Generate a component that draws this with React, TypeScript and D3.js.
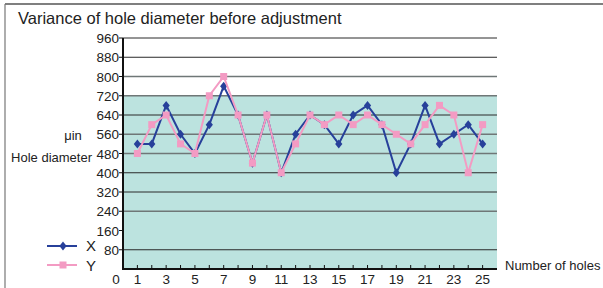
import React from "react";
import * as d3 from "d3";

const holes = d3.range(1, 26);
const seriesX = [520, 520, 680, 560, 480, 600, 760, 640, 440, 640, 400, 560, 640, 600, 520, 640, 680, 600, 400, 520, 680, 520, 560, 600, 520];
const seriesY = [480, 600, 640, 520, 480, 720, 800, 640, 440, 640, 400, 520, 640, 600, 640, 600, 640, 600, 560, 520, 600, 680, 640, 400, 600];
const yTickLabels = [0, 80, 160, 240, 320, 400, 480, 560, 640, 720, 800, 880, 960];
const gridValues = [80, 240, 320, 400, 480, 560, 640, 720, 800, 880, 960];
const darkGrid = [80, 320, 400, 640, 880, 960];
const xLabels = [1, 3, 5, 7, 9, 11, 13, 15, 17, 19, 21, 23, 25];

const W = 603, H = 288;
const L = 123, R = 497, T = 38, B = 269;
const font = "Liberation Sans, Arial, sans-serif";
const blue = "#27409a";
const pink = "#f39bc3";

export default function App() {
  const x = d3.scaleLinear().domain([0, 26]).range([L, R]);
  const y = d3.scaleLinear().domain([0, 960]).range([B, T]);
  const line = d3.line<number>().x((_, i) => x(holes[i])).y((d) => y(d));
  const diamond = (cx: number, cy: number, r: number) =>
    `M${cx},${cy - r}L${cx + r * 0.8},${cy}L${cx},${cy + r}L${cx - r * 0.8},${cy}Z`;
  return (
    <svg width={W} height={H} style={{ position: "absolute", left: 0, top: 0 }}>
      <rect x={0} y={0} width={W} height={H} fill="#fff" />
      <line x1={5} x2={W} y1={4} y2={4} stroke="#555" strokeWidth={1.5} />
      <line x1={5} x2={5} y1={4} y2={H} stroke="#777" strokeWidth={1.2} />
      <text x={18} y={24} fontFamily={font} fontSize={16.5} fill="#222">Variance of hole diameter before adjustment</text>
      <rect x={L} y={y(720)} width={R - L} height={B - y(720)} fill="#bce3df" />
      {gridValues.map((v) => (
        <line key={v} x1={L} x2={R} y1={y(v)} y2={y(v)}
          stroke={darkGrid.includes(v) ? "#2a2a2a" : "#6f7777"}
          strokeWidth={darkGrid.includes(v) ? 1 : 1.5} />
      ))}
      {yTickLabels.filter((v) => v > 0).map((v) => (
        <g key={v}>
          <line x1={L - 4} x2={L} y1={y(v)} y2={y(v)} stroke="#111" />
          <text x={119} y={y(v) + 5} textAnchor="end" fontFamily={font} fontSize={13.5} fill="#222">{v}</text>
        </g>
      ))}
      {holes.map((h) => (
        <line key={h} x1={x(h)} x2={x(h)} y1={B} y2={B - 4} stroke="#111" />
      ))}
      {xLabels.map((h) => (
        <text key={h} x={x(h)} y={283.5} textAnchor="middle" fontFamily={font} fontSize={13.5} fill="#222">{h}</text>
      ))}
      <text x={116} y={283.5} textAnchor="middle" fontFamily={font} fontSize={13.5} fill="#222">0</text>
      <line x1={L} x2={L} y1={T} y2={B + 1} stroke="#111" strokeWidth={2} />
      <line x1={L - 1} x2={R} y1={B} y2={B} stroke="#111" strokeWidth={2} />
      <path d={line(seriesX) || ""} fill="none" stroke={blue} strokeWidth={2} />
      {seriesX.map((v, i) => (
        <path key={i} d={diamond(x(holes[i]), y(v), 4.5)} fill={blue} />
      ))}
      <path d={line(seriesY) || ""} fill="none" stroke={pink} strokeWidth={2} />
      {seriesY.map((v, i) => (
        <rect key={i} x={x(holes[i]) - 3.5} y={y(v) - 3.5} width={7} height={7} fill={pink} />
      ))}
      <text x={73} y={140} textAnchor="middle" fontFamily={font} fontSize={13} fill="#222">μin</text>
      <text x={92} y={162} textAnchor="end" fontFamily={font} fontSize={13} fill="#222">Hole diameter</text>
      <text x={505} y={270} fontFamily={font} fontSize={13} fill="#222">Number of holes</text>
      <line x1={47} x2={77} y1={246} y2={246} stroke={blue} strokeWidth={2} />
      <path d={diamond(63, 246, 4.5)} fill={blue} />
      <text x={86} y={251} fontFamily={font} fontSize={15} fill="#222">X</text>
      <line x1={47} x2={77} y1={265} y2={265} stroke={pink} strokeWidth={2} />
      <rect x={59.5} y={261.5} width={7} height={7} fill={pink} />
      <text x={86} y={270.5} fontFamily={font} fontSize={15} fill="#222">Y</text>
    </svg>
  );
}
